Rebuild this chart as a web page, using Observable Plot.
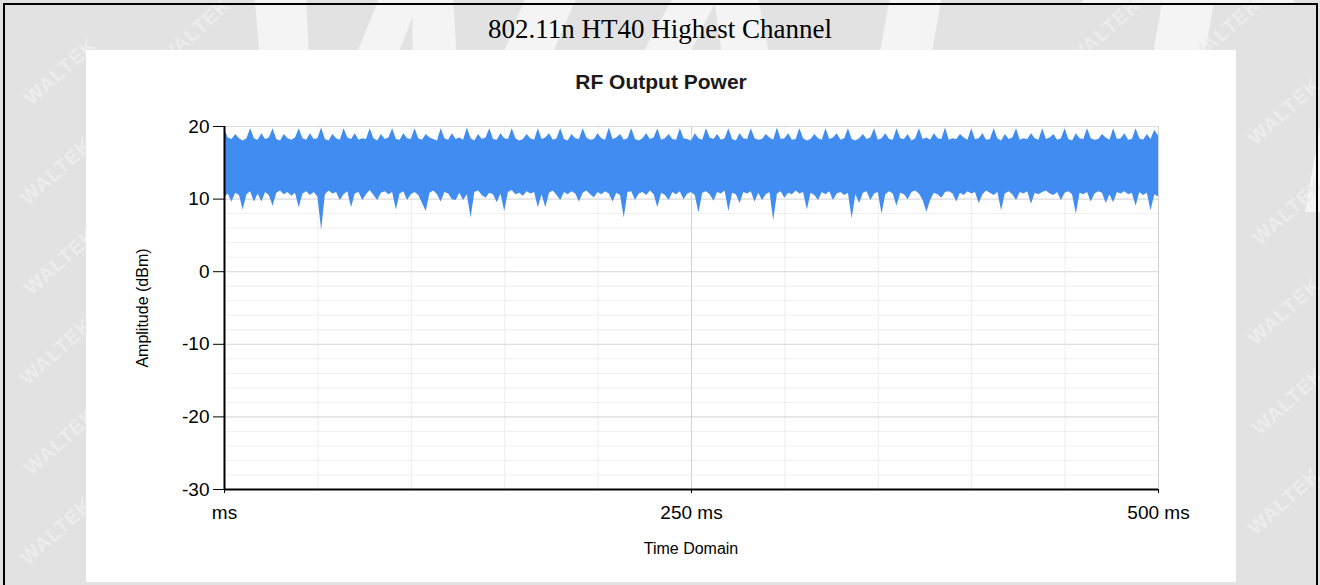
<!DOCTYPE html>
<html>
<head>
<meta charset="utf-8">
<script src="https://cdn.jsdelivr.net/npm/d3@7"></script>
<script src="https://cdn.jsdelivr.net/npm/@observablehq/plot@0.6"></script>
<style>
  html, body { margin: 0; padding: 0; }
  body { width: 1320px; height: 585px; position: relative; overflow: hidden; background: #e2e2e2; font-family: "Liberation Sans", Arial, sans-serif; }
  .wm { position: absolute; color: #ececec; font: bold 20px "Liberation Sans", Arial, sans-serif; transform: rotate(-42deg); letter-spacing: 1px; white-space: nowrap; }
  .big { position: absolute; color: #f4f4f4; font: bold 360px "Liberation Sans", Arial, sans-serif; white-space: nowrap; letter-spacing: 20px; transform: skewX(-10deg); }
  #frame { position: absolute; left: 3px; top: 3px; width: 1311px; height: 600px; border-top: 2px solid #000; border-left: 2px solid #000; border-right: 2px solid #000; }
  #maintitle { position: absolute; left: 0; width: 1320px; top: 14px; text-align: center; font: 27px "Liberation Serif", "Times New Roman", serif; color: #000; }
  #panel { position: absolute; left: 86px; top: 50px; width: 1150px; height: 532px; background: #fff; }
  #charttitle { position: absolute; left: 86px; width: 1150px; top: 70px; text-align: center; font: bold 21px "Liberation Sans", Arial, sans-serif; color: #1a1a1a; }
  #xlabel { position: absolute; left: 591px; width: 200px; top: 540px; text-align: center; font: 16px "Liberation Sans", Arial, sans-serif; color: #000; }
  #ylabel { position: absolute; left: 143px; top: 308px; transform: translate(-50%, -50%) rotate(-90deg); font: 16px "Liberation Sans", Arial, sans-serif; color: #000; white-space: nowrap; }
  #chart { position: absolute; left: 86px; top: 50px; }
</style>
</head>
<body>
<div class="big" style="left:230px; top:-120px;">WALTEK</div>
<div class="wm" style="left:16px; top:60px;">WALTEK</div>
<div class="wm" style="left:12px; top:160px;">WALTEK</div>
<div class="wm" style="left:16px; top:250px;">WALTEK</div>
<div class="wm" style="left:12px; top:340px;">WALTEK</div>
<div class="wm" style="left:16px; top:430px;">WALTEK</div>
<div class="wm" style="left:12px; top:520px;">WALTEK</div>
<div class="wm" style="left:1240px; top:100px;">WALTEK</div>
<div class="wm" style="left:1244px; top:200px;">WALTEK</div>
<div class="wm" style="left:1240px; top:300px;">WALTEK</div>
<div class="wm" style="left:1244px; top:390px;">WALTEK</div>
<div class="wm" style="left:1240px; top:490px;">WALTEK</div>
<div class="wm" style="left:1180px; top:20px;">WALTEK</div>
<div class="wm" style="left:1060px; top:20px;">WALTEK</div>
<div class="wm" style="left:150px; top:20px;">WALTEK</div>
<div id="frame"></div>
<div id="maintitle">802.11n HT40 Highest Channel</div>
<div id="panel"></div>
<div id="chart"></div>
<div id="charttitle">RF Output Power</div>
<div id="ylabel">Amplitude (dBm)</div>
<div id="xlabel">Time Domain</div>
<script>
// ---- Data ----
const chartTitle = "RF Output Power";
const xLabel = "Time Domain";
const yLabel = "Amplitude (dBm)";
const sampleStepMs = 2;            // envelope sampled every 2 ms, 0..500 ms
const xTicks = [0, 250, 500];
const xTickLabels = ["ms", "250 ms", "500 ms"];
const yTicks = [-30, -20, -10, 0, 10, 20];

// upper envelope of the trace (dBm)
const upperEnvelope = [
  19.7,18.4,18.2,18.9,18.3,18.0,18.3,19.7,18.3,18.1,
  19.0,18.2,18.4,19.7,18.2,18.0,18.9,18.3,18.1,18.4,
  19.7,18.3,18.1,19.0,18.2,18.3,19.8,18.2,18.0,18.9,
  18.3,18.1,19.7,18.4,18.2,19.0,18.1,18.3,18.2,19.7,
  18.3,18.0,18.9,18.2,18.4,19.7,18.2,18.1,19.0,18.3,
  18.2,19.7,18.3,18.1,18.9,18.4,18.2,18.0,19.7,18.3,
  18.1,19.0,18.2,18.4,18.1,19.8,18.3,18.0,18.9,18.2,
  18.4,19.7,18.2,18.1,19.0,18.3,18.2,19.7,18.3,18.0,
  18.2,18.9,18.3,18.1,19.7,18.2,18.4,19.0,18.1,18.3,
  19.7,18.2,18.0,18.9,18.3,18.2,19.7,18.4,18.1,18.2,
  19.0,18.3,18.1,19.8,18.2,18.4,18.9,18.1,18.3,19.7,
  18.2,18.0,18.3,19.0,18.2,18.4,19.7,18.1,18.3,18.9,
  18.2,18.1,19.7,18.3,18.2,18.0,19.0,18.3,18.1,19.7,
  18.4,18.2,18.9,18.1,18.3,19.7,18.2,18.0,19.0,18.3,
  18.2,19.7,18.3,18.1,18.2,18.9,18.4,18.1,19.8,18.2,
  18.3,19.0,18.1,18.2,19.7,18.3,18.0,18.2,18.9,18.3,
  18.1,19.7,18.2,18.4,19.0,18.1,18.3,19.7,18.2,18.0,
  18.3,18.9,18.2,18.4,19.7,18.1,18.3,19.0,18.2,18.1,
  19.7,18.3,18.2,18.9,18.0,18.3,19.7,18.2,18.4,18.1,
  19.0,18.3,18.2,19.8,18.1,18.3,18.2,18.9,18.4,18.1,
  19.7,18.2,18.3,19.0,18.1,18.2,19.7,18.3,18.0,18.9,
  18.2,18.4,19.7,18.1,18.3,18.2,19.0,18.3,18.1,19.7,
  18.2,18.4,18.9,18.1,18.3,19.7,18.2,18.0,19.0,18.3,
  18.2,19.7,18.3,18.1,18.2,18.9,18.4,18.1,19.7,18.2,
  18.3,19.0,18.1,18.2,19.7,18.3,18.1,18.9,18.2,19.5,
  18.7
];

// lower envelope of the trace (dBm)
const lowerEnvelope = [
  10.2,10.7,9.6,10.8,10.5,8.5,10.6,11.0,9.6,10.7,
  9.6,10.9,10.5,9.0,10.8,11.1,10.6,10.9,10.4,10.8,
  8.8,10.7,11.0,10.5,10.9,10.3,5.7,10.6,11.1,10.7,
  10.9,9.8,10.6,11.0,8.8,10.7,10.9,9.8,10.6,11.2,
  10.5,9.8,10.8,11.0,10.6,10.9,8.5,10.7,11.0,9.8,
  10.6,10.9,10.5,9.4,8.3,10.8,11.1,10.6,9.6,10.9,
  10.7,9.9,9.8,10.8,9.8,10.6,7.4,10.9,11.1,10.5,
  10.1,10.8,10.6,9.5,10.7,8.3,10.9,11.2,10.6,10.8,
  10.4,11.0,10.7,10.9,8.8,10.6,8.8,10.8,11.1,10.5,
  9.8,10.9,10.6,11.0,10.7,9.6,10.8,11.1,10.6,10.2,
  10.9,10.6,11.0,10.7,9.6,10.8,10.5,7.4,10.9,11.0,
  9.8,10.7,10.9,10.5,11.1,10.6,8.8,10.8,10.5,9.8,
  10.9,10.6,11.0,9.9,10.7,10.9,10.5,8.1,10.8,11.0,
  10.6,9.7,10.9,10.7,11.1,8.3,10.8,10.6,9.4,10.9,
  10.7,11.0,9.6,10.8,9.8,10.6,10.9,7.05,10.7,11.0,
  10.1,10.8,10.6,11.1,10.7,10.9,8.5,10.8,10.5,9.8,
  10.9,10.6,11.0,9.8,10.7,10.9,10.5,10.8,7.3,10.6,
  9.4,10.8,11.0,9.8,10.7,10.9,7.9,10.6,11.0,10.7,
  9.0,10.8,10.6,9.9,10.9,11.1,10.7,9.8,8.2,9.8,
  10.8,10.6,10.1,10.9,11.0,10.7,9.6,10.8,10.5,11.0,
  10.7,10.9,9.4,10.6,11.1,10.8,10.5,10.9,8.4,10.7,
  11.0,10.6,9.8,10.9,10.7,11.0,9.3,10.8,10.6,10.9,
  11.1,10.7,10.5,10.9,9.8,10.8,11.0,10.6,7.9,10.8,
  10.6,10.9,9.6,10.7,11.0,10.8,9.4,10.6,9.5,10.9,
  10.7,11.0,10.6,10.8,9.0,10.9,10.5,10.8,8.4,10.6,
  10.3
];

// ---- Build table ----
const trace = upperEnvelope.map((hi, i) => ({ t: i * sampleStepMs, hi, lo: lowerEnvelope[i] }));

const minorY = d3.range(-30, 21, 2);
const minorX = d3.range(0, 501, 50).filter(v => !xTicks.includes(v));

const chart = Plot.plot({
  width: 1150,
  height: 532,
  marginLeft: 138,
  marginRight: 78,
  marginTop: 76,
  marginBottom: 93,
  style: { fontFamily: "'Liberation Sans', Arial, sans-serif", fontSize: "19px", background: "transparent", color: "#000", overflow: "visible" },
  x: { domain: [0, 500] },
  y: { domain: [-30, 20] },
  marks: [
    Plot.gridY(minorY, { stroke: "#efefef", strokeOpacity: 1 }),
    Plot.gridX(minorX, { stroke: "#eeeeee", strokeOpacity: 1 }),
    Plot.gridY(yTicks, { stroke: "#d9d9d9", strokeOpacity: 1 }),
    Plot.gridX(xTicks.filter(v => v > 0), { stroke: "#d2d2d2", strokeOpacity: 1 }),
    Plot.areaY(trace, { x: "t", y1: "lo", y2: "hi", fill: "#418CF0", curve: "linear" }),
    Plot.axisY(yTicks, { label: null, tickSize: 11, tickPadding: 4, fontSize: 19, stroke: "#000",
      tickFormat: (d) => String(d) }),
    Plot.axisX(xTicks, { label: null, tickSize: 4, tickPadding: 12, fontSize: 19, stroke: "#000",
      tickFormat: (d) => xTickLabels[xTicks.indexOf(d)] }),
    Plot.ruleX([0], { stroke: "#000", strokeWidth: 2 }),
    Plot.ruleY([-30], { stroke: "#000", strokeWidth: 2 })
  ]
});
document.getElementById("chart").appendChild(chart);
</script>
</body>
</html>
